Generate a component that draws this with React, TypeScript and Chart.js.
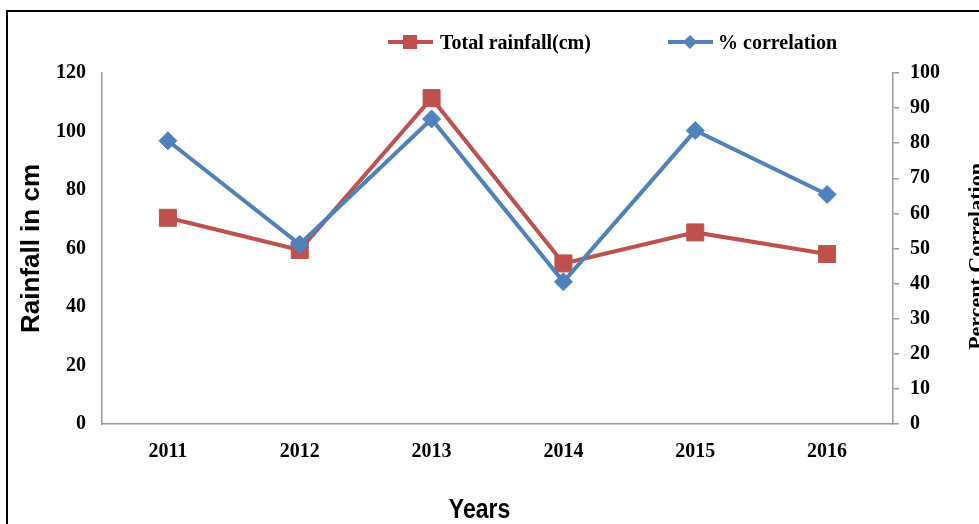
import React, { useEffect, useRef } from "react";
import { Chart, registerables } from "chart.js";

Chart.register(...registerables);

const years = ["2011", "2012", "2013", "2014", "2015", "2016"];
const totalRainfall = [70.5, 59.5, 111.4, 54.9, 65.5, 58.1];
const percentCorrelation = [80.7, 51.2, 86.9, 40.5, 83.6, 65.4];
const rainfallTicks = { min: 0, max: 120, step: 20 };
const correlationTicks = { min: 0, max: 100, step: 10 };

const RED = "#C0504D";
const BLUE = "#4F81BD";
const AXIS = "#9a9a9a";
const SERIF = "'Liberation Serif', 'Times New Roman', serif";
const SANS = "'Liberation Sans', Arial, sans-serif";

const W = 1000;
const H = 540;

const extraTitles = {
  id: "extraTitles",
  afterDraw(chart: any) {
    const { ctx, chartArea } = chart;
    ctx.save();
    ctx.fillStyle = "#000";
    // right axis title, reading bottom to top
    ctx.font = `bold 22px ${SERIF}`;
    ctx.textAlign = "center";
    ctx.textBaseline = "alphabetic";
    ctx.translate(chartArea.right + 90, (chartArea.top + chartArea.bottom) / 2 + 8);
    ctx.rotate(-Math.PI / 2);
    ctx.fillText("Percent Correlation", 0, 0);
    ctx.restore();
    // x axis title, condensed bold sans
    ctx.save();
    ctx.fillStyle = "#000";
    ctx.font = `bold 28px ${SANS}`;
    ctx.textAlign = "center";
    ctx.textBaseline = "alphabetic";
    ctx.translate((chartArea.left + chartArea.right) / 2 - 18, chartArea.bottom + 94);
    ctx.scale(0.82, 1);
    ctx.fillText("Years", 0, 0);
    ctx.restore();
  },
};

export default function App() {
  const ref = useRef<HTMLCanvasElement>(null);

  useEffect(() => {
    if (!ref.current) return;
    const tickFont = { family: SERIF, size: 20, weight: "bold" as const };
    const chart = new Chart(ref.current, {
      type: "line",
      data: {
        labels: years,
        datasets: [
          {
            label: "Total rainfall(cm)",
            data: totalRainfall,
            yAxisID: "y",
            borderColor: RED,
            backgroundColor: RED,
            borderWidth: 4,
            pointStyle: "rect",
            pointRadius: 12,
            pointBorderWidth: 1,
            pointBackgroundColor: RED,
            pointBorderColor: RED,
            tension: 0,
            order: 1,
          },
          {
            label: "% correlation",
            data: percentCorrelation,
            yAxisID: "y1",
            borderColor: BLUE,
            backgroundColor: BLUE,
            borderWidth: 4,
            pointStyle: "rectRot",
            pointRadius: 9,
            pointBorderWidth: 1,
            pointBackgroundColor: BLUE,
            pointBorderColor: BLUE,
            tension: 0,
            order: 0,
          },
        ],
      },
      options: {
        animation: false,
        responsive: false,
        layout: { padding: { top: 73, left: 0, right: 0, bottom: 0 } },
        plugins: {
          legend: { display: false },
          tooltip: { enabled: false },
        },
        scales: {
          x: {
            offset: true,
            grid: { display: false, drawTicks: false },
            border: { display: true, color: AXIS, width: 1.5 },
            ticks: { color: "#000", font: tickFont, padding: 16 },
            afterFit: (s: any) => {
              s.height = H - 424;
            },
          },
          y: {
            position: "left",
            min: rainfallTicks.min,
            max: rainfallTicks.max,
            grid: { display: false, drawTicks: false },
            border: { display: true, color: AXIS, width: 1.5 },
            ticks: { stepSize: rainfallTicks.step, color: "#000", font: tickFont, padding: 16 },
            title: {
              display: true,
              text: "Rainfall in cm",
              color: "#000",
              font: { family: SANS, size: 26, weight: "bold" },
              padding: { top: 16, bottom: 0 },
            },
            afterFit: (s: any) => {
              s.width = 102;
            },
          },
          y1: {
            position: "right",
            min: correlationTicks.min,
            max: correlationTicks.max,
            grid: {
              display: true,
              drawOnChartArea: false,
              drawTicks: true,
              tickLength: 6,
              color: AXIS,
              lineWidth: 1.5,
            },
            border: { display: true, color: AXIS, width: 1.5 },
            ticks: { stepSize: correlationTicks.step, color: "#000", font: tickFont, padding: 11 },
            afterFit: (s: any) => {
              s.width = W - 893;
            },
          },
        },
      },
      plugins: [extraTitles],
    });
    return () => chart.destroy();
  }, []);

  const legendText: React.CSSProperties = {
    position: "absolute",
    top: 30,
    fontFamily: SERIF,
    fontWeight: "bold",
    fontSize: 20,
    lineHeight: "24px",
    color: "#000",
    whiteSpace: "nowrap",
  };

  return (
    <div
      style={{
        position: "fixed",
        left: 0,
        top: 0,
        width: 979,
        height: 524,
        overflow: "hidden",
        background: "#fff",
      }}
    >
      <canvas
        ref={ref}
        width={W}
        height={H}
        style={{ position: "absolute", left: 0, top: 0, width: W, height: H }}
      />
      <div
        style={{
          position: "absolute",
          left: 6,
          top: 10,
          width: 2000,
          height: 2000,
          borderLeft: "2px solid #000",
          borderTop: "2px solid #000",
          pointerEvents: "none",
        }}
      />
      {/* legend */}
      <div style={{ position: "absolute", left: 388, top: 40, width: 45, height: 4, background: RED }} />
      <div style={{ position: "absolute", left: 403, top: 35, width: 14, height: 14, background: RED }} />
      <div style={{ ...legendText, left: 440 }}>Total rainfall(cm)</div>
      <div style={{ position: "absolute", left: 668, top: 40, width: 45, height: 4, background: BLUE }} />
      <div
        style={{
          position: "absolute",
          left: 685,
          top: 37,
          width: 10,
          height: 10,
          background: BLUE,
          transform: "rotate(45deg)",
        }}
      />
      <div style={{ ...legendText, left: 718 }}>% correlation</div>
    </div>
  );
}
